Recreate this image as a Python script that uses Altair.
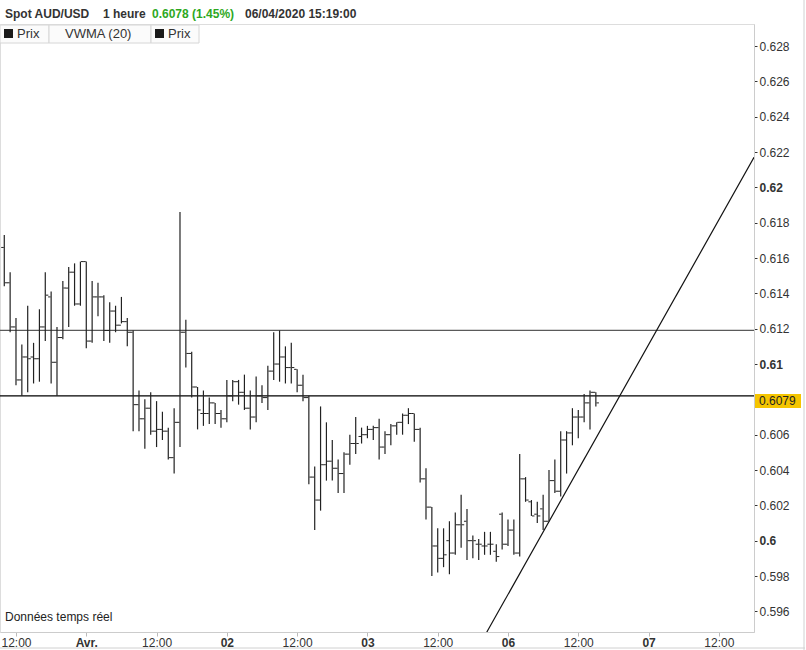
import json
import altair as alt
import pandas as pd

# ---------------- data ----------------
bar_index = list(range(-2, 100))  # trading hours since 31/03 12:00
opens = [0.6166, 0.6146, 0.6121, 0.6091, 0.6104, 0.6104, 0.6103, 0.6121, 0.6138, 0.6101,
         0.6115, 0.6143, 0.6152, 0.6134, 0.6158, 0.6113, 0.6138, 0.6138, 0.6119, 0.6130,
         0.6122, 0.6124, 0.6118, 0.6077, 0.6069, 0.6075, 0.6062, 0.6063, 0.6062, 0.6047,
         0.6067, 0.6118, 0.6106, 0.6087, 0.6072, 0.6072, 0.6078, 0.6072, 0.6069, 0.6082,
         0.6090, 0.6084, 0.6075, 0.6070, 0.6082, 0.6081, 0.6096, 0.6100, 0.6104, 0.6098,
         0.6097, 0.6088, 0.6081, 0.6036, 0.6023, 0.6043, 0.6045, 0.6041, 0.6038, 0.6049,
         0.6055, 0.6059, 0.6060, 0.6063, 0.6064, 0.6053, 0.6060, 0.6065, 0.6067, 0.6071,
         0.6072, 0.6063, 0.6035, 0.6019, 0.5997, 0.5990, 0.6000, 0.5993, 0.6009, 0.6011,
         0.6000, 0.5998, 0.5997, 0.5998, 0.5994, 0.6015, 0.5998, 0.6006, 0.5993, 0.6035,
         0.6022, 0.6015, 0.6018, 0.6011, 0.6034, 0.6028, 0.6057, 0.6061, 0.6070, 0.6070,
         0.6078, 0.6084]
highs = [0.6173, 0.6152, 0.6126, 0.6111, 0.6133, 0.6112, 0.6131, 0.6152, 0.6141, 0.6121,
         0.6147, 0.6155, 0.6157, 0.6158, 0.6158, 0.6147, 0.6146, 0.6139, 0.6135, 0.6133,
         0.6138, 0.6126, 0.6119, 0.6085, 0.6080, 0.6084, 0.6079, 0.6073, 0.6064, 0.6075,
         0.6186, 0.6125, 0.6107, 0.6087, 0.6085, 0.6081, 0.6078, 0.6074, 0.6091, 0.6091,
         0.6091, 0.6094, 0.6085, 0.6093, 0.6088, 0.6099, 0.6118, 0.6119, 0.6110, 0.6112,
         0.6097, 0.6094, 0.6082, 0.6042, 0.6076, 0.6067, 0.6057, 0.6046, 0.6050, 0.6060,
         0.6070, 0.6064, 0.6065, 0.6065, 0.6069, 0.6062, 0.6066, 0.6067, 0.6072, 0.6075,
         0.6072, 0.6064, 0.6041, 0.6019, 0.6007, 0.6007, 0.6011, 0.6016, 0.6026, 0.6018,
         0.6003, 0.6001, 0.6005, 0.6005, 0.5998, 0.6016, 0.6012, 0.6012, 0.6049, 0.6036,
         0.6023, 0.6022, 0.6026, 0.6040, 0.6046, 0.6062, 0.6062, 0.6075, 0.6074, 0.6083,
         0.6085, 0.6084]
lows = [0.6144, 0.6118, 0.6088, 0.6082, 0.6084, 0.6089, 0.6090, 0.6113, 0.6089, 0.6082,
        0.6114, 0.6121, 0.6133, 0.6133, 0.6109, 0.6112, 0.6127, 0.6113, 0.6112, 0.6118,
        0.6123, 0.6110, 0.6062, 0.6062, 0.6052, 0.6060, 0.6053, 0.6057, 0.6046, 0.6038,
        0.6053, 0.6098, 0.6081, 0.6063, 0.6065, 0.6066, 0.6066, 0.6064, 0.6067, 0.6079,
        0.6077, 0.6074, 0.6063, 0.6067, 0.6078, 0.6074, 0.6091, 0.6090, 0.6089, 0.6089,
        0.6084, 0.6079, 0.6032, 0.6006, 0.6017, 0.6034, 0.6034, 0.6027, 0.6027, 0.6043,
        0.6049, 0.6055, 0.6058, 0.6057, 0.6046, 0.6049, 0.6054, 0.6060, 0.6060, 0.6066,
        0.6056, 0.6033, 0.6012, 0.5980, 0.5982, 0.5985, 0.5981, 0.5992, 0.5996, 0.5989,
        0.5990, 0.5989, 0.5992, 0.5992, 0.5988, 0.5995, 0.5997, 0.5992, 0.5991, 0.6022,
        0.6014, 0.6010, 0.6006, 0.6011, 0.6027, 0.6025, 0.6038, 0.6054, 0.6058, 0.6067,
        0.6063, 0.6076]
closes = [0.6146, 0.6121, 0.6091, 0.6104, 0.6103, 0.6103, 0.6121, 0.6139, 0.6101, 0.6115,
          0.6143, 0.6152, 0.6134, 0.6158, 0.6113, 0.6138, 0.6138, 0.6119, 0.6130, 0.6122,
          0.6124, 0.6118, 0.6077, 0.6069, 0.6075, 0.6062, 0.6063, 0.6062, 0.6047, 0.6067,
          0.6118, 0.6106, 0.6087, 0.6074, 0.6072, 0.6078, 0.6072, 0.6069, 0.6082, 0.6090,
          0.6084, 0.6075, 0.6070, 0.6082, 0.6081, 0.6096, 0.6100, 0.6104, 0.6098, 0.6098,
          0.6088, 0.6081, 0.6036, 0.6023, 0.6043, 0.6045, 0.6041, 0.6038, 0.6049, 0.6055,
          0.6055, 0.6060, 0.6063, 0.6064, 0.6053, 0.6060, 0.6065, 0.6067, 0.6071, 0.6072,
          0.6063, 0.6035, 0.6019, 0.5997, 0.5990, 0.5992, 0.5993, 0.6009, 0.6009, 0.6000,
          0.6000, 0.5998, 0.5997, 0.5998, 0.5991, 0.5998, 0.6006, 0.5993, 0.6035, 0.6023,
          0.6014, 0.6014, 0.6011, 0.6034, 0.6028, 0.6057, 0.6061, 0.6070, 0.6070, 0.6078,
          0.6084, 0.6078]

x_tick_values = [0, 12, 24, 36, 48, 60, 72, 84, 96, 108, 120]
x_tick_labels = ["12:00", "Avr.", "12:00", "02", "12:00", "03", "12:00", "06", "12:00", "07", "12:00"]
# 0.608 is hidden behind the last-price marker in the reference
y_tick_values = [0.596, 0.598, 0.600, 0.602, 0.604, 0.606, 0.610, 0.612, 0.614,
                 0.616, 0.618, 0.620, 0.622, 0.624, 0.626, 0.628]

hline_values = [0.6119, 0.6082]
trend_index = [80, 126]
trend_values = [0.5946, 0.6217]
last_price = 0.6079
last_label = "0.6079"

header_parts = ["Spot AUD/USD", "1 heure", "0.6078 (1.45%)", "06/04/2020 15:19:00"]

# ---------------- chart ----------------
FONT = "Liberation Sans"
W, H = 754, 608

df = pd.DataFrame({"i": bar_index, "open": opens, "high": highs, "low": lows, "close": closes})
one = pd.DataFrame({"k": [0]})

xscale = alt.Scale(domain=[-2.73, 126], nice=False, zero=False)
yscale = alt.Scale(domain=[0.59483, 0.62925], nice=False, zero=False)

xaxis = alt.Axis(
    values=x_tick_values,
    labelExpr=json.dumps(x_tick_labels) + "[round(datum.value/12)]",
    title=None, grid=False, domainColor="#cccccc", tickColor="#bbbbbb", tickSize=4,
    labelFont=FONT, labelFontSize=12, labelColor="#333333", labelPadding=1,
    labelFlush=False, labelOverlap=False,
    labelFontWeight={"condition": {"test": "datum.value % 24 == 12", "value": "bold"}, "value": "normal"},
)
yaxis = alt.Axis(
    orient="right", values=y_tick_values,
    labelExpr="format(datum.value, '.3~f')",
    title=None, grid=False, domainColor="#cccccc", tickColor="#333333", tickSize=3,
    labelFont=FONT, labelFontSize=12, labelColor="#333333", labelPadding=2,
    labelFlush=False, labelOverlap=False,
    labelFontWeight={"condition": {"test": "abs(datum.value*100 - round(datum.value*100)) < 0.001", "value": "bold"}, "value": "normal"},
)


def X(field):
    return alt.X(field, scale=xscale, axis=xaxis)


def Y(field):
    return alt.Y(field, scale=yscale, axis=yaxis)


bars = alt.Chart(df).mark_rule(color="#222222", strokeWidth=1.2).encode(
    x=X("i:Q"), y=Y("low:Q"), y2="high:Q",
)
open_ticks = alt.Chart(df).mark_tick(orient="horizontal", size=2.5, thickness=1, color="#222222",
                                     xOffset=-1.8, opacity=1).encode(x=X("i:Q"), y=Y("open:Q"))
close_ticks = alt.Chart(df).mark_tick(orient="horizontal", size=2.5, thickness=1, color="#222222",
                                      xOffset=1.8, opacity=1).encode(x=X("i:Q"), y=Y("close:Q"))

hdf = pd.DataFrame({"v": hline_values, "c": ["#5a5a5a", "#000000"]})
hlines = alt.Chart(hdf).mark_rule(strokeWidth=1.3).encode(
    y=Y("v:Q"), color=alt.Color("c:N", scale=None),
)

tdf = pd.DataFrame({"i": trend_index, "v": trend_values})
trend = alt.Chart(tdf).mark_line(color="#111111", strokeWidth=1.2, clip=True).encode(
    x=X("i:Q"), y=Y("v:Q"),
)

ldf = pd.DataFrame({"v": [last_price], "label": [last_label]})
last_box = alt.Chart(ldf).transform_calculate(
    top="datum.v + 0.00041", bot="datum.v - 0.00039"
).mark_rect(color="#f5c500").encode(
    x=alt.value(755), x2=alt.value(801), y=Y("top:Q"), y2="bot:Q",
)
last_text = alt.Chart(ldf).mark_text(align="left", baseline="middle", font=FONT, fontSize=12,
                                     color="#222222").encode(
    x=alt.value(759), y=Y("v:Q"), text="label:N",
)

# header line
header_x = [5, 103, 152, 245]
header_col = ["#333333", "#333333", "#2ea81e", "#333333"]
header_layers = [
    alt.Chart(one).mark_text(align="left", baseline="middle", font=FONT, fontSize=12,
                             fontWeight="bold", color=c).encode(
        x=alt.value(xp), y=alt.value(-10), text=alt.value(t))
    for t, xp, c in zip(header_parts, header_x, header_col)
]

# legend boxes
box_edges = [(0, 49), (49, 151), (151, 199)]
legend_boxes = [
    alt.Chart(one).mark_rect(fill="#fbfbfb", stroke="#d6d6d6", strokeWidth=1).encode(
        x=alt.value(a), x2=alt.value(b), y=alt.value(1), y2=alt.value(19))
    for a, b in box_edges
]
legend_squares = [
    alt.Chart(one).mark_rect(fill="#1a1a1a").encode(
        x=alt.value(a), x2=alt.value(a + 9), y=alt.value(5), y2=alt.value(14))
    for a in (4, 155)
]
legend_texts = [
    alt.Chart(one).mark_text(align="left", baseline="middle", font=FONT, fontSize=13,
                             color="#333333").encode(
        x=alt.value(xp), y=alt.value(10), text=alt.value(t))
    for t, xp in (("Prix", 17), ("VWMA (20)", 65), ("Prix", 168))
]

note = alt.Chart(one).mark_text(align="left", baseline="middle", font=FONT, fontSize=12,
                                color="#222222").encode(
    x=alt.value(5), y=alt.value(593), text=alt.value("Données temps réel"))

frame_right = alt.Chart(one).mark_rule(color="#d0d0d0", strokeWidth=1).encode(
    x=alt.value(804), y=alt.value(-24), y2=alt.value(626))
frame_bottom = alt.Chart(one).mark_rule(color="#d0d0d0", strokeWidth=1).encode(
    x=alt.value(0), x2=alt.value(805), y=alt.value(624))

chart = alt.layer(
    hlines, trend, bars, open_ticks, close_ticks, last_box, last_text,
    *legend_boxes, *legend_squares, *legend_texts, note, *header_layers,
    frame_right, frame_bottom,
).properties(
    width=W, height=H,
    autosize=alt.AutoSizeParams(type="none"),
    padding={"left": 0, "top": 24, "right": 52, "bottom": 18},
).configure_view(stroke=None).configure_axis(
    labelOverlap=False, labelFlush=False
).configure(background="white")

chart.save("out.html", embed_options={"renderer": "svg", "actions": False})
